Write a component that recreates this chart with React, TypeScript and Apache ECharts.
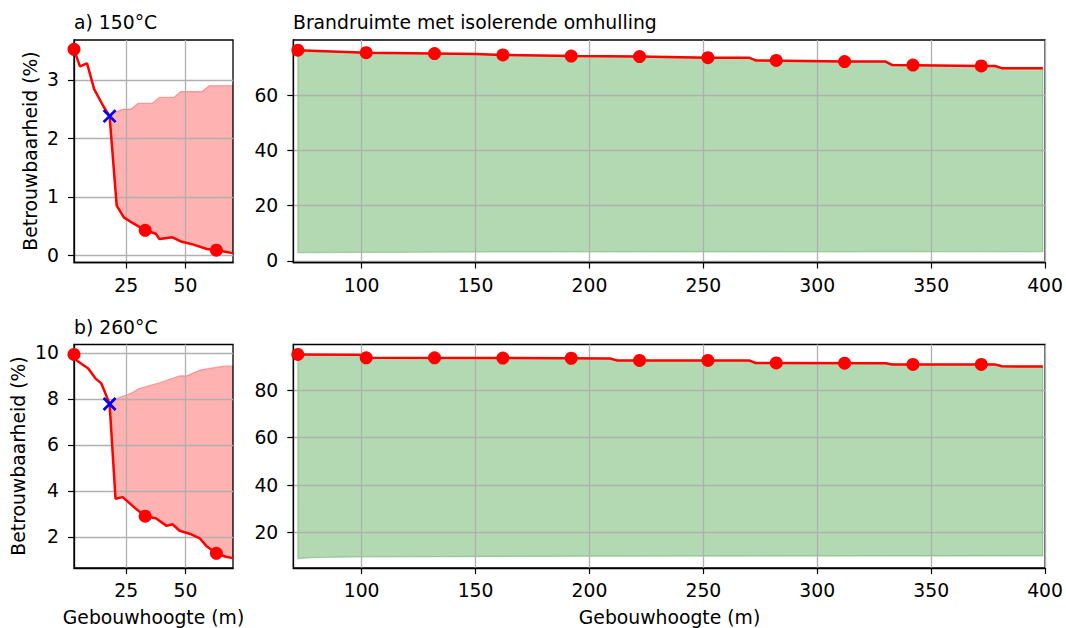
import React, { useEffect, useRef } from "react";
import * as echarts from "echarts";

// ---------- data ----------
// a) 150°C, left panel (building height 3–70 m)
const TL_LINE_X = [3, 5.5, 8.5, 11.5, 15.5, 18, 21, 24, 27.5, 33, 37.5, 39, 44.5, 48, 53, 59, 63, 70];
const TL_LINE_Y = [3.52, 3.23, 3.28, 2.84, 2.54, 2.38, 0.85, 0.65, 0.56, 0.43, 0.37, 0.28, 0.31, 0.24, 0.19, 0.11, 0.09, 0.04];
const TL_UPPER_X = [18, 21, 24, 27, 30, 36, 39, 45, 48, 57, 60, 70];
const TL_UPPER_Y = [2.38, 2.46, 2.5, 2.5, 2.6, 2.6, 2.7, 2.7, 2.8, 2.8, 2.9, 2.9];
const TL_MARK_X = [3, 33, 63];
const TL_MARK_Y = [3.52, 0.43, 0.09];
const TL_CROSS = [18, 2.38];

// b) 260°C, left panel
const BL_LINE_X = [3, 4, 9, 12, 14.5, 16, 18, 20.5, 23.5, 29, 33, 37.5, 42, 44.5, 47.5, 52, 56, 59, 63, 67, 70];
const BL_LINE_Y = [9.93, 9.68, 9.32, 8.89, 8.67, 8.3, 7.78, 3.66, 3.73, 3.23, 2.9, 2.81, 2.48, 2.55, 2.27, 2.13, 1.94, 1.58, 1.29, 1.14, 1.08];
const BL_UPPER_X = [18, 22, 27, 30.5, 39, 47.5, 50.5, 56, 60, 66, 70];
const BL_UPPER_Y = [7.78, 8.06, 8.24, 8.45, 8.7, 9.0, 9.0, 9.25, 9.32, 9.42, 9.42];
const BL_MARK_X = [3, 33, 63];
const BL_MARK_Y = [9.93, 2.9, 1.29];
const BL_CROSS = [18, 7.78];

// a) right panel: Brandruimte met isolerende omhulling (70–400 m)
const TR_LINE_X = [72, 102, 132, 150, 162, 192, 222, 252, 270, 273, 312, 330, 333, 372, 378, 381, 399];
const TR_LINE_Y = [76.3, 75.4, 75.1, 74.9, 74.6, 74.2, 74.0, 73.6, 73.6, 72.6, 72.2, 72.2, 70.9, 70.6, 70.6, 69.8, 69.8];
const TR_MARK_X = [72, 102, 132, 162, 192, 222, 252, 282, 312, 342, 372];
const TR_MARK_Y = [76.3, 75.4, 75.1, 74.6, 74.2, 74.0, 73.6, 72.6, 72.2, 70.9, 70.6];
const TR_LOWER_X = [72, 160, 399];
const TR_LOWER_Y = [3.0, 3.2, 3.35];

// b) right panel
const BR_LINE_X = [72, 99, 103, 190, 209, 212, 270, 273, 330, 333, 378, 381, 399];
const BR_LINE_Y = [95.1, 95.0, 93.7, 93.5, 93.4, 92.6, 92.6, 91.5, 91.4, 90.9, 90.9, 90.1, 90.0];
const BR_MARK_X = [72, 102, 132, 162, 192, 222, 252, 282, 312, 342, 372];
const BR_MARK_Y = [95.1, 93.7, 93.7, 93.6, 93.5, 92.6, 92.6, 91.5, 91.4, 90.9, 90.9];
const BR_LOWER_X = [72, 78, 100, 200, 399];
const BR_LOWER_Y = [9.0, 9.4, 9.7, 10.0, 10.1];

// tick labels
const X_TICKS_LEFT = [25, 50];
const X_TICKS_RIGHT = [100, 150, 200, 250, 300, 350, 400];
const Y_TICKS_TL = [0, 1, 2, 3];
const Y_TICKS_BL = [2, 4, 6, 8, 10];
const Y_TICKS_TR = [0, 20, 40, 60];
const Y_TICKS_BR = [20, 40, 60, 80];

// texts
const TITLE_A = "a) 150°C";
const TITLE_B = "b) 260°C";
const TITLE_RIGHT = "Brandruimte met isolerende omhulling";
const Y_LABEL = "Betrouwbaarheid (%)";
const X_LABEL = "Gebouwhoogte (m)";

// ---------- styling ----------
const FONT = "DejaVu Sans";
const FS = 18.8;
const RED = "#ff0000";
const GRID_COLOR = "#b0b0b0";

const zip = (xs: number[], ys: number[]) => xs.map((x, i) => [x, ys[i]]);

function xAxis(gridIndex: number, min: number, max: number, ticks: number[]) {
  return {
    type: "value",
    gridIndex,
    min,
    max,
    axisLine: { show: true, onZero: false, lineStyle: { color: "#000", width: 1.3 } },
    axisTick: { show: true, length: 6, customValues: ticks, lineStyle: { color: "#000", width: 1.2 } },
    axisLabel: { customValues: ticks, fontSize: FS, fontFamily: FONT, color: "#000", margin: 13 },
    splitLine: { show: true, lineStyle: { color: GRID_COLOR, width: 1.3 } },
  };
}

function yAxis(gridIndex: number, min: number, max: number, ticks: number[]) {
  return {
    type: "value",
    gridIndex,
    min,
    max,
    axisLine: { show: true, onZero: false, lineStyle: { color: "#000", width: 1.3 } },
    axisTick: { show: true, length: 6, customValues: ticks, lineStyle: { color: "#000", width: 1.2 } },
    axisLabel: { customValues: ticks, fontSize: FS, fontFamily: FONT, color: "#000", margin: 15 },
    splitLine: { show: true, lineStyle: { color: GRID_COLOR, width: 1.3 } },
  };
}

function fillSeries(
  idx: number,
  upper: number[][],
  lower: number[][],
  fill: string,
  stroke: string
) {
  return {
    type: "custom",
    xAxisIndex: idx,
    yAxisIndex: idx,
    z: -1,
    silent: true,
    clip: true,
    data: [upper[0]],
    renderItem: (_params: any, api: any) => {
      const pts: number[][] = [];
      upper.forEach((p) => pts.push(api.coord(p)));
      for (let i = lower.length - 1; i >= 0; i--) pts.push(api.coord(lower[i]));
      return {
        type: "polygon",
        shape: { points: pts },
        style: { fill, stroke, lineWidth: 1.2 },
      };
    },
  };
}

function lineSeries(idx: number, data: number[][]) {
  return {
    type: "line",
    xAxisIndex: idx,
    yAxisIndex: idx,
    data,
    showSymbol: false,
    clip: true,
    z: 3,
    lineStyle: { color: RED, width: 2.5 },
    itemStyle: { color: RED },
  };
}

function markerSeries(idx: number, data: number[][]) {
  return {
    type: "scatter",
    xAxisIndex: idx,
    yAxisIndex: idx,
    data,
    symbol: "circle",
    symbolSize: 13,
    z: 4,
    itemStyle: { color: RED, opacity: 1 },
  };
}

function crossSeries(idx: number, point: number[]) {
  return {
    type: "scatter",
    xAxisIndex: idx,
    yAxisIndex: idx,
    data: [point],
    symbol: "path://M0,0L10,10M10,0L0,10",
    symbolSize: 12,
    z: 5,
    itemStyle: { color: "transparent", borderColor: "#0000ff", borderWidth: 2.8, opacity: 1 },
  };
}

function text(x: number, y: number, t: string, align: string, rotation = 0) {
  return {
    type: "text",
    x,
    y,
    rotation,
    silent: true,
    style: {
      text: t,
      fill: "#000",
      fontSize: FS,
      fontFamily: FONT,
      align,
      verticalAlign: "middle",
    },
  };
}

export default function App() {
  const ref = useRef<HTMLDivElement>(null);

  useEffect(() => {
    if (!ref.current) return;
    const chart = echarts.init(ref.current, undefined, { renderer: "svg" });

    const tlLine = zip(TL_LINE_X, TL_LINE_Y);
    const blLine = zip(BL_LINE_X, BL_LINE_Y);
    const trLine = zip(TR_LINE_X, TR_LINE_Y);
    const brLine = zip(BR_LINE_X, BR_LINE_Y);

    const gridBase = { show: true, borderColor: "#000", borderWidth: 1.3, backgroundColor: "transparent", containLabel: false };

    chart.setOption({
      animation: false,
      backgroundColor: "#fff",
      grid: [
        { ...gridBase, left: 74, top: 40, width: 159, height: 222.5 },
        { ...gridBase, left: 293.3, top: 40, width: 752.4, height: 222.5 },
        { ...gridBase, left: 74, top: 344.5, width: 159, height: 223.5 },
        { ...gridBase, left: 293.3, top: 344.5, width: 752.4, height: 223.5 },
      ],
      xAxis: [
        xAxis(0, 3, 70, X_TICKS_LEFT),
        xAxis(1, 70, 400, X_TICKS_RIGHT),
        xAxis(2, 3, 70, X_TICKS_LEFT),
        xAxis(3, 70, 400, X_TICKS_RIGHT),
      ],
      yAxis: [
        yAxis(0, -0.12, 3.68, Y_TICKS_TL),
        yAxis(1, -0.6, 80, Y_TICKS_TR),
        yAxis(2, 0.65, 10.36, Y_TICKS_BL),
        yAxis(3, 5.0, 99.3, Y_TICKS_BR),
      ],
      series: [
        fillSeries(0, zip(TL_UPPER_X, TL_UPPER_Y), tlLine.filter((p) => p[0] >= TL_CROSS[0]), "rgba(255,0,0,0.3)", "rgba(255,0,0,0.3)"),
        lineSeries(0, tlLine),
        markerSeries(0, zip(TL_MARK_X, TL_MARK_Y)),
        crossSeries(0, TL_CROSS),

        fillSeries(1, trLine, zip(TR_LOWER_X, TR_LOWER_Y), "rgba(0,128,0,0.3)", "rgba(0,128,0,0.3)"),
        lineSeries(1, trLine),
        markerSeries(1, zip(TR_MARK_X, TR_MARK_Y)),

        fillSeries(2, zip(BL_UPPER_X, BL_UPPER_Y), blLine.filter((p) => p[0] >= BL_CROSS[0]), "rgba(255,0,0,0.3)", "rgba(255,0,0,0.3)"),
        lineSeries(2, blLine),
        markerSeries(2, zip(BL_MARK_X, BL_MARK_Y)),
        crossSeries(2, BL_CROSS),

        fillSeries(3, brLine, zip(BR_LOWER_X, BR_LOWER_Y), "rgba(0,128,0,0.3)", "rgba(0,128,0,0.3)"),
        lineSeries(3, brLine),
        markerSeries(3, zip(BR_MARK_X, BR_MARK_Y)),
      ],
      graphic: [
        text(74, 22, TITLE_A, "left"),
        text(293, 22, TITLE_RIGHT, "left"),
        text(74, 327, TITLE_B, "left"),
        text(30, 151, Y_LABEL, "center", Math.PI / 2),
        text(18.5, 456, Y_LABEL, "center", Math.PI / 2),
        text(153.5, 617, X_LABEL, "center"),
        text(669.5, 617, X_LABEL, "center"),
      ],
    });

    return () => chart.dispose();
  }, []);

  return (
    <div
      ref={ref}
      style={{ position: "absolute", left: 0, top: 0, width: 1066, height: 628, background: "#fff" }}
    />
  );
}
